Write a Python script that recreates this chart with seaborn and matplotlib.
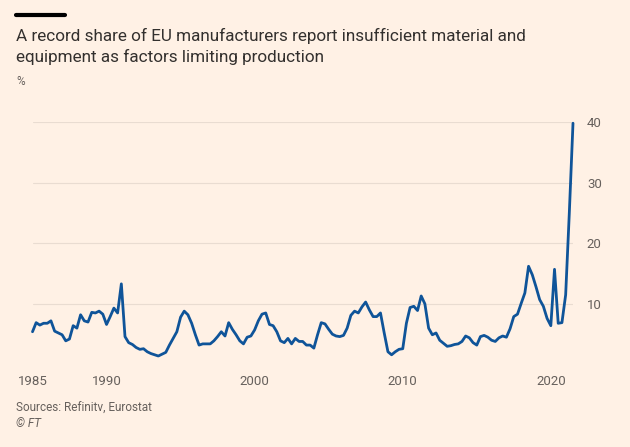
import pandas as pd
import matplotlib
matplotlib.use('Agg')
import matplotlib.pyplot as plt
import seaborn as sns

# Quarterly share of EU manufacturers citing shortage of material/equipment (%)
start_date = '1985-01-01'
shortage_pct = [
    5.4, 6.9, 6.5, 6.8, 6.8, 7.2, 5.5, 5.2, 4.9, 3.9,
    4.2, 6.4, 6.0, 8.2, 7.2, 7.0, 8.6, 8.5, 8.8, 8.3,
    6.6, 7.9, 9.3, 8.5, 13.3, 4.6, 3.6, 3.3, 2.8, 2.5,
    2.6, 2.1, 1.8, 1.6, 1.4, 1.7, 2.0, 3.2, 4.3, 5.4,
    7.8, 8.8, 8.2, 6.8, 4.9, 3.2, 3.4, 3.4, 3.4, 3.9,
    4.6, 5.4, 4.7, 6.9, 5.8, 4.9, 3.9, 3.4, 4.5, 4.7,
    5.7, 7.2, 8.3, 8.5, 6.6, 6.4, 5.4, 3.9, 3.6, 4.3,
    3.4, 4.3, 3.8, 3.8, 3.2, 3.2, 2.7, 4.9, 6.9, 6.7,
    5.8, 5.0, 4.7, 4.6, 4.8, 6.0, 8.1, 8.8, 8.5, 9.5,
    10.3, 9.0, 7.9, 7.9, 8.5, 5.2, 2.1, 1.6, 2.1, 2.5,
    2.6, 6.8, 9.4, 9.6, 8.9, 11.3, 10.0, 6.0, 4.9, 5.2,
    4.0, 3.5, 3.0, 3.1, 3.3, 3.4, 3.8, 4.7, 4.4, 3.6,
    3.2, 4.6, 4.8, 4.5, 4.0, 3.8, 4.4, 4.7, 4.5, 5.9,
    7.9, 8.3, 10.1, 11.8, 16.2, 14.8, 12.8, 10.7, 9.6, 7.6,
    6.4, 15.7, 6.8, 6.9, 11.5, 25.0, 39.8,
]
labelled_years = [1985, 1990, 2000, 2010, 2020]
y_ticks = [10, 20, 30, 40]

df = pd.DataFrame({
    'date': pd.date_range(start_date, periods=len(shortage_pct), freq='QS'),
    'pct': shortage_pct,
})

bg = '#FFF1E5'
grey = '#66605C'
sns.set_style('white', {'axes.facecolor': bg, 'figure.facecolor': bg})
plt.rcParams['font.family'] = ['Roboto', 'DejaVu Sans']

W, H = 630, 447
fig = plt.figure(figsize=(W / 100, H / 100), dpi=100)
ax = fig.add_axes([32.5 / W, 1 - 356 / H, (573 - 32.5) / W, (356 - 122) / H])

sns.lineplot(data=df, x='date', y='pct', ax=ax, color='#0F5499', linewidth=2.0,
             clip_on=False, zorder=3)

ax.set_xlim(df['date'].iloc[0], df['date'].iloc[-1])
ax.set_ylim(1.4, 40)

# grid lines
ax.set_yticks(y_ticks)
ax.yaxis.tick_right()
ax.grid(axis='y', color='#E9DCD1', linewidth=0.8)
ax.tick_params(axis='y', length=0, pad=10, labelsize=9.5, labelcolor=grey)

# year ticks, labels only on some years
years = list(range(1985, 2022))
ax.set_xticks([pd.Timestamp(y, 1, 1) for y in years] + [df['date'].iloc[-1]])
ax.set_xticklabels([str(y) if y in labelled_years else '' for y in years] + [''])
ax.tick_params(axis='x', length=9, width=0.8, color='#CFC3B8', pad=5,
               labelsize=9.5, labelcolor=grey)

for s in ax.spines.values():
    s.set_visible(False)
ax.set_xlabel('')
ax.set_ylabel('')

# header and footer
fig.add_artist(plt.Line2D([16 / W, 65 / W], [1 - 14.5 / H, 1 - 14.5 / H],
                          color='black', linewidth=3))
fig.text(16 / W, 1 - 41 / H, 'A record share of EU manufacturers report insufficient material and',
         fontsize=12.3, color='#33302E', va='baseline')
fig.text(16 / W, 1 - 62 / H, 'equipment as factors limiting production',
         fontsize=12.3, color='#33302E', va='baseline')
fig.text(16 / W, 1 - 85 / H, '%', fontsize=8.5, color=grey, va='baseline')
fig.text(16 / W, 1 - 412 / H, 'Sources: Refinitv, Eurostat', fontsize=8.5, color=grey, va='baseline')
fig.text(16 / W, 1 - 427 / H, '© FT', fontsize=8.5, color=grey, va='baseline', style='italic')

fig.savefig('out.png', dpi=100, facecolor=bg)
